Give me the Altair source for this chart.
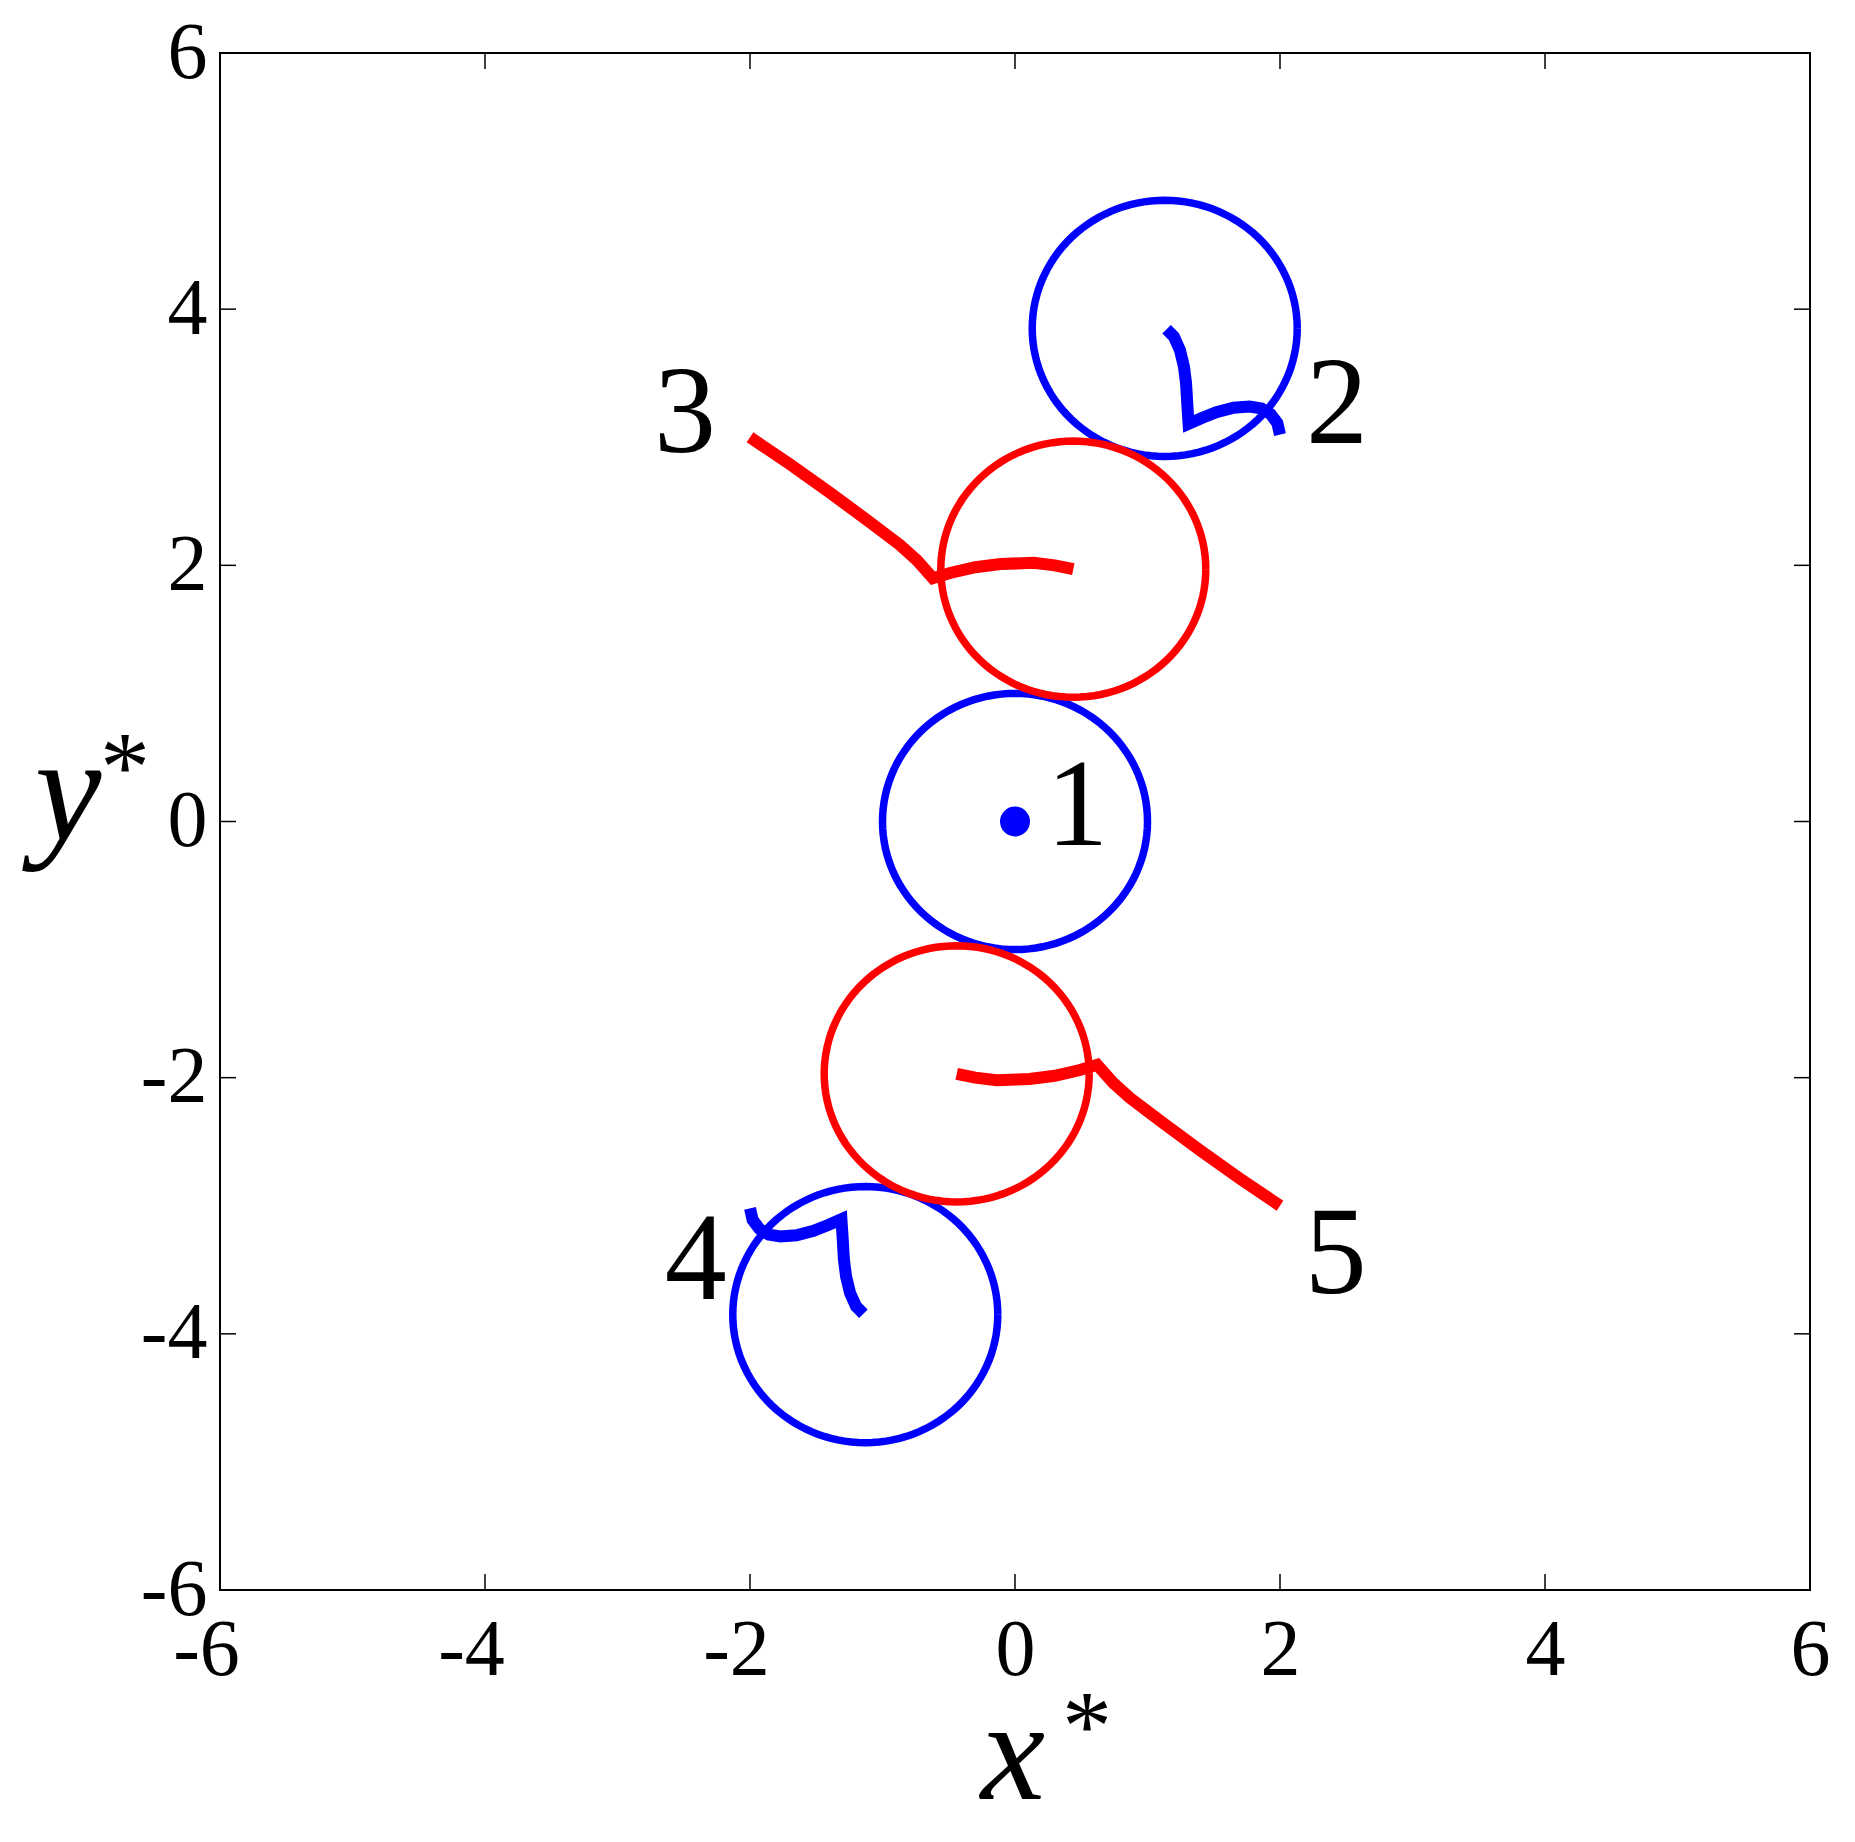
import altair as alt
import pandas as pd

# ---------------- data ----------------
ticks = [-6, -4, -2, 0, 2, 4, 6]

# final particle positions (circles of radius 1)
circle_id = ["1", "2", "3", "4", "5"]
circle_cx = [0.0, 1.13, 0.44, -1.13, -0.44]
circle_cy = [0.0, 3.85, 1.97, -3.85, -1.97]
circle_r = [1.0, 1.0, 1.0, 1.0, 1.0]
circle_color = ["blue", "blue", "red", "blue", "red"]

# trajectories
traj2_x = [2.0, 1.98, 1.93, 1.86, 1.77, 1.65, 1.52, 1.41, 1.31, 1.30, 1.291, 1.275, 1.245, 1.20, 1.144]
traj2_y = [3.02, 3.11, 3.18, 3.225, 3.24, 3.23, 3.195, 3.15, 3.105, 3.265, 3.422, 3.551, 3.68, 3.785, 3.843]
traj3_x = [-2.0, -1.7, -1.4, -1.1, -0.87, -0.74, -0.62, -0.49, -0.30, -0.11, 0.14, 0.30, 0.44]
traj3_y = [3.0, 2.79, 2.57, 2.34, 2.16, 2.04, 1.90, 1.94, 1.985, 2.01, 2.02, 2.0, 1.97]
traj4_x = [-2.0, -1.98, -1.93, -1.86, -1.77, -1.65, -1.52, -1.41, -1.31, -1.30, -1.291, -1.275, -1.245, -1.20, -1.144]
traj4_y = [-3.02, -3.11, -3.18, -3.225, -3.24, -3.23, -3.195, -3.15, -3.105, -3.265, -3.422, -3.551, -3.68, -3.785, -3.843]
traj5_x = [2.0, 1.7, 1.4, 1.1, 0.87, 0.74, 0.62, 0.49, 0.30, 0.11, -0.14, -0.30, -0.44]
traj5_y = [-3.0, -2.79, -2.57, -2.34, -2.16, -2.04, -1.90, -1.94, -1.985, -2.01, -2.02, -2.0, -1.97]
traj_color = {"2": "blue", "3": "red", "4": "blue", "5": "red"}

# particle 1 stays at the origin
dot_x = [0.0]
dot_y = [0.0]

# particle number labels
label_text = ["1", "2", "3", "4", "5"]
label_x = [0.47, 2.43, -2.49, -2.41, 2.42]
label_y = [-0.18, 2.955, 2.885, -3.73, -3.68]

# ---------------- tables ----------------
circ_df = pd.DataFrame({"id": circle_id, "cx": circle_cx, "cy": circle_cy,
                        "r": circle_r, "color": circle_color})
rows = []
for tid, xs_, ys_ in [("2", traj2_x, traj2_y), ("3", traj3_x, traj3_y),
                      ("4", traj4_x, traj4_y), ("5", traj5_x, traj5_y)]:
    for i, (a, b) in enumerate(zip(xs_, ys_)):
        rows.append({"id": tid, "i": i, "x": a, "y": b, "color": traj_color[tid]})
traj_df = pd.DataFrame(rows)
dot_df = pd.DataFrame({"x": dot_x, "y": dot_y})
lab_df = pd.DataFrame({"t": label_text, "x": label_x, "y": label_y})
tick_df = pd.DataFrame({"v": ticks})

W, H = 1590, 1537
TL = 16
FONT = "'Liberation Serif', 'Times New Roman', Times, serif"

xs = alt.Scale(domain=[-6, 6], nice=False, zero=False)
ys = alt.Scale(domain=[-6, 6], nice=False, zero=False)

xaxis = alt.Axis(values=ticks, labelExpr="'' + datum.value", title=None,
                 domain=False, ticks=False, tickSize=0, grid=False,
                 labelFont=FONT, labelFontSize=80, labelColor="black",
                 labelPadding=21, labelFlush=False, labelOverlap=False,
                 labelOffset={"condition": {"test": "datum.value < 0", "value": -14}, "value": 0})
yaxis = alt.Axis(values=ticks, labelExpr="'' + datum.value", title=None,
                 domain=False, ticks=False, tickSize=0, grid=False,
                 labelFont=FONT, labelFontSize=80, labelColor="black",
                 labelPadding=13, labelFlush=False, labelOverlap=False)

X = lambda f: alt.X(f, scale=xs, axis=xaxis)
Y = lambda f: alt.Y(f, scale=ys, axis=yaxis)

base_t = alt.Chart(tick_df)
xt_bottom = base_t.mark_rule(color="black", strokeWidth=1.5).encode(
    x=X("v:Q"), y=alt.value(H), y2=alt.value(H - TL))
xt_top = base_t.mark_rule(color="black", strokeWidth=1.5).encode(
    x=X("v:Q"), y=alt.value(0), y2=alt.value(TL))
yt_left = base_t.mark_rule(color="black", strokeWidth=1.5).encode(
    y=Y("v:Q"), x=alt.value(0), x2=alt.value(TL))
yt_right = base_t.mark_rule(color="black", strokeWidth=1.5).encode(
    y=Y("v:Q"), x=alt.value(W), x2=alt.value(W - TL))

circles = alt.Chart(circ_df).transform_calculate(
    t="sequence(0, 361, 3)"
).transform_flatten(["t"]).transform_calculate(
    px="datum.cx + datum.r * cos(datum.t * PI / 180)",
    py="datum.cy + datum.r * sin(datum.t * PI / 180)",
).mark_line(strokeWidth=7.5).encode(
    x=X("px:Q"),
    y=Y("py:Q"),
    detail="id:N",
    order="t:Q",
    color=alt.Color("color:N", scale=None),
)

trajs = alt.Chart(traj_df).mark_line(strokeWidth=12, strokeJoin="miter", strokeCap="butt").encode(
    x=X("x:Q"),
    y=Y("y:Q"),
    detail="id:N",
    order="i:Q",
    color=alt.Color("color:N", scale=None),
)

dot = alt.Chart(dot_df).mark_point(filled=True, shape="circle", size=900, color="blue", opacity=1).encode(
    x=X("x:Q"),
    y=Y("y:Q"),
)

labels = alt.Chart(lab_df).mark_text(font=FONT, fontSize=124, align="center",
                                     baseline="alphabetic", color="black").encode(
    x=X("x:Q"),
    y=Y("y:Q"),
    text="t:N",
)

x_title = alt.Chart(pd.DataFrame({"t": ["x"]})).mark_text(
    font=FONT, fontSize=145, fontStyle="italic", align="center", baseline="alphabetic", color="black"
).encode(x=alt.value(793), y=alt.value(1746), text="t:N")
x_star = alt.Chart(pd.DataFrame({"t": ["*"]})).mark_text(
    font=FONT, fontSize=100, align="center", baseline="alphabetic", color="black"
).encode(x=alt.value(867), y=alt.value(1706), text="t:N")
y_title = alt.Chart(pd.DataFrame({"t": ["y"]})).mark_text(
    font=FONT, fontSize=150, fontStyle="italic", align="center", baseline="alphabetic", color="black"
).encode(x=alt.value(-152), y=alt.value(787), text="t:N")
y_star = alt.Chart(pd.DataFrame({"t": ["*"]})).mark_text(
    font=FONT, fontSize=100, align="center", baseline="alphabetic", color="black"
).encode(x=alt.value(-95), y=alt.value(747), text="t:N")

chart = alt.layer(
    xt_bottom, xt_top, yt_left, yt_right, circles, trajs, dot, labels,
    x_title, x_star, y_title, y_star
).properties(
    width=W, height=H,
    padding={"left": 212, "top": 45, "right": 30, "bottom": 244},
    autosize=alt.AutoSizeParams(type="none"),
    background="white",
).configure_view(stroke="black", strokeWidth=2)

chart.save("out.html", embed_options={"renderer": "svg", "actions": False})
